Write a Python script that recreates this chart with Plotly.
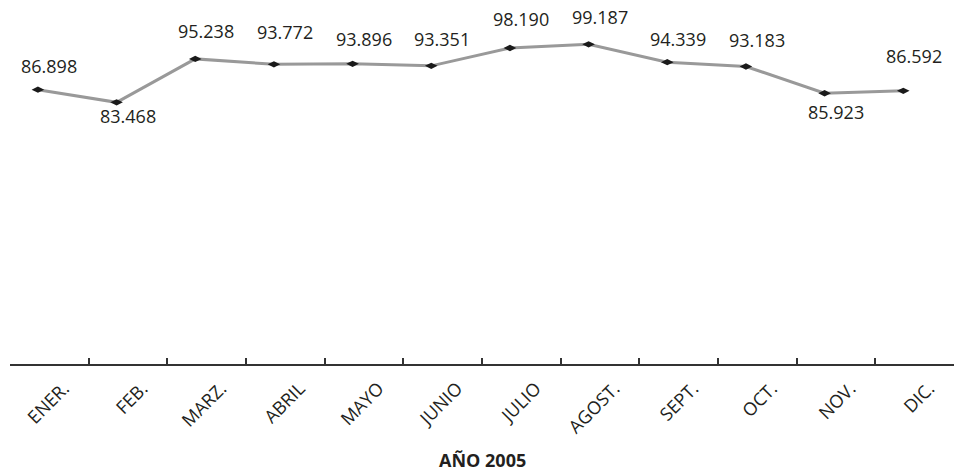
import plotly.graph_objects as go

months = ["ENER.", "FEB.", "MARZ.", "ABRIL", "MAYO", "JUNIO", "JULIO",
          "AGOST.", "SEPT.", "OCT.", "NOV.", "DIC."]
values = [86.898, 83.468, 95.238, 93.772, 93.896, 93.351, 98.190,
          99.187, 94.339, 93.183, 85.923, 86.592]
value_labels = ["86.898", "83.468", "95.238", "93.772", "93.896", "93.351",
                "98.190", "99.187", "94.339", "93.183", "85.923", "86.592"]
axis_title = "AÑO 2005"

# label vertical offsets (px, negative = above)
label_dy = [-24, 14, -28, -32, -25, -27, -29, -27, -23, -26, 19, -35]

x_idx = list(range(len(months)))
xr = [-0.355, 11.645]

fig = go.Figure()
fig.add_trace(go.Scatter(
    x=x_idx, y=values, mode="lines+markers",
    line=dict(color="#999999", width=3),
    marker=dict(symbol="diamond-wide", size=9, color="#1a1a1a"),
    showlegend=False, hoverinfo="skip", cliponaxis=False))

# boundary tick marks on an overlaid axis
fig.add_trace(go.Scatter(x=[xr[0]], y=[None], xaxis="x2", showlegend=False,
                         hoverinfo="skip"))

for xi, v, t, dy in zip(x_idx, values, value_labels, label_dy):
    fig.add_annotation(x=xi, y=v, text=t, showarrow=False, xshift=11,
                       yshift=-dy, font=dict(size=18, color="#231f20",
                                             family="Open Sans"))

fig.add_annotation(x=0.5, xref="paper", y=-0.264, yref="paper",
                   yanchor="middle", xanchor="center",
                   text="<b>" + axis_title + "</b>", showarrow=False,
                   font=dict(size=18, color="#231f20", family="Open Sans"))

fig.update_layout(
    width=955, height=473,
    margin=dict(l=10, r=1, t=0, b=109, autoexpand=False),
    paper_bgcolor="white", plot_bgcolor="white",
    font=dict(family="Open Sans", color="#231f20"),
    xaxis=dict(range=xr, tickmode="array", automargin=False,
               tickvals=[i + 0.33 for i in x_idx], ticktext=months,
               tickangle=-45, ticks="outside", ticklen=5,
               tickcolor="rgba(0,0,0,0)", showgrid=False, zeroline=False,
               showline=True, linecolor="#333333", linewidth=2,
               tickfont=dict(size=18, color="#231f20")),
    xaxis2=dict(range=xr, overlaying="x", anchor="y", side="bottom",
                tickmode="array", automargin=False,
                tickvals=[xr[0] + k for k in range(13)],
                showticklabels=False, ticks="inside", ticklen=6,
                tickwidth=2, tickcolor="#333333", showgrid=False,
                zeroline=False, showline=False),
    yaxis=dict(range=[12.55, 111.2], visible=False, showgrid=False,
               automargin=False),
)

fig.write_html("out.html", config={"displayModeBar": False},
               post_script="document.body.style.margin='0';"
                           "document.body.style.overflow='hidden';")
